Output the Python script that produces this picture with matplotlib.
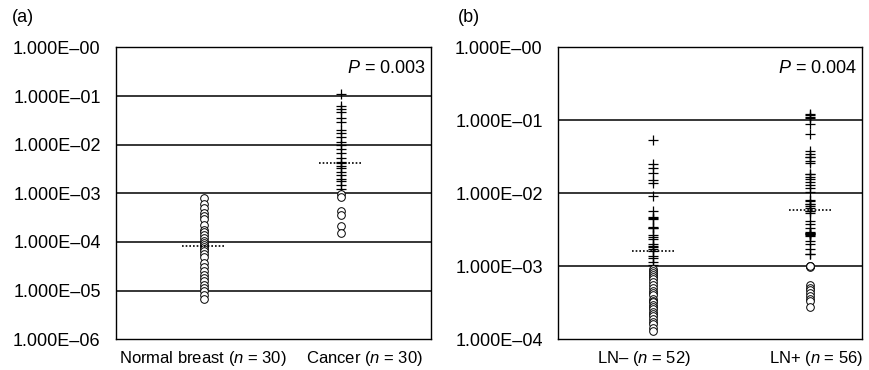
import matplotlib
matplotlib.use("Agg")
import matplotlib.pyplot as plt
from matplotlib.ticker import FixedLocator, FixedFormatter

plt.rcParams['font.family'] = ['Liberation Sans', 'DejaVu Sans']
plt.rcParams['mathtext.fontset'] = 'custom'
plt.rcParams['mathtext.rm'] = 'Liberation Sans'
plt.rcParams['mathtext.it'] = 'Liberation Sans:italic'

# ---------------- data ----------------
# Panel (a)
normal_circ = [7.9e-4, 6.0e-4, 4.9e-4, 3.9e-4, 3.4e-4, 2.9e-4, 2.2e-4, 1.8e-4, 1.6e-4, 1.38e-4,
               1.2e-4, 1.05e-4, 9.5e-5, 8.7e-5, 7.8e-5, 7.1e-5, 6.4e-5, 5.6e-5, 4.9e-5, 3.7e-5,
               3.0e-5, 2.5e-5, 2.1e-5, 1.8e-5, 1.57e-5, 1.3e-5, 1.13e-5, 9.8e-6, 8.1e-6, 6.7e-6]
cancer_plus = [1.12e-1, 6.2e-2, 5.3e-2, 4.6e-2, 3.6e-2, 2.9e-2, 1.96e-2, 1.7e-2, 1.45e-2, 1.15e-2,
               9.9e-3, 8.2e-3, 6.6e-3, 5.2e-3, 4.5e-3, 4.2e-3, 3.7e-3, 3.3e-3, 2.8e-3, 2.4e-3,
               2.0e-3, 1.76e-3, 1.45e-3, 1.2e-3]
cancer_circ = [9.5e-4, 8.3e-4, 4.3e-4, 3.6e-4, 2.1e-4, 1.55e-4]
median_a = [8.3e-5, 4.3e-3]
labels_a = ["Normal breast ($n$ = 30)", "Cancer ($n$ = 30)"]
p_a = "$P$ = 0.003"

# Panel (b)
lnneg_plus = [5.4e-2, 2.5e-2, 2.2e-2, 1.9e-2, 1.5e-2, 1.4e-2, 9.3e-3, 5.8e-3, 4.8e-3, 4.6e-3,
              4.4e-3, 3.5e-3, 3.4e-3, 3.3e-3, 2.7e-3, 2.55e-3, 2.4e-3, 2.0e-3, 1.9e-3, 1.85e-3,
              1.75e-3, 1.6e-3, 1.4e-3, 1.28e-3, 1.15e-3, 1.05e-3]
lnneg_circ = [9.3e-4, 8.7e-4, 8.1e-4, 7.6e-4, 7.1e-4, 6.6e-4, 6.0e-4, 5.5e-4, 5.0e-4, 4.6e-4,
              4.3e-4, 4.0e-4, 3.6e-4, 3.4e-4, 3.2e-4, 2.95e-4, 2.75e-4, 2.6e-4, 2.4e-4, 2.25e-4,
              2.1e-4, 1.9e-4, 1.75e-4, 1.6e-4, 1.45e-4, 1.3e-4]
lnpos_plus = [1.21e-1, 1.19e-1, 1.11e-1, 1.09e-1, 9.0e-2, 6.4e-2, 3.8e-2, 3.5e-2, 3.16e-2, 3.1e-2,
              2.8e-2, 2.6e-2, 1.85e-2, 1.83e-2, 1.7e-2, 1.55e-2, 1.44e-2, 1.29e-2, 1.17e-2, 1.04e-2,
              8.2e-3, 7.8e-3, 7.2e-3, 7.1e-3, 6.6e-3, 6.3e-3, 5.8e-3, 5.7e-3, 5.4e-3, 4.2e-3,
              3.8e-3, 3.4e-3, 2.95e-3, 2.9e-3, 2.85e-3, 2.8e-3, 2.75e-3, 2.7e-3, 2.6e-3, 2.2e-3,
              2.03e-3, 1.74e-3, 1.48e-3, 1.46e-3]
lnpos_circ = [1.0e-3, 1.0e-3, 0.98e-3, 1.02e-3, 5.5e-4, 5.0e-4, 4.7e-4, 4.35e-4, 3.9e-4, 3.6e-4,
              3.3e-4, 2.8e-4]
median_b = [1.6e-3, 6.0e-3]
labels_b = ["LN\u2013 ($n$ = 52)", "LN+ ($n$ = 56)"]
p_b = "$P$ = 0.004"

yt_a = [1e-6, 1e-5, 1e-4, 1e-3, 1e-2, 1e-1, 1e0]
yl_a = ["1.000E\u201306", "1.000E\u201305", "1.000E\u201304", "1.000E\u201303",
        "1.000E\u201302", "1.000E\u201301", "1.000E\u201300"]
yt_b = [1e-4, 1e-3, 1e-2, 1e-1, 1e0]
yl_b = ["1.000E\u201304", "1.000E\u201303", "1.000E\u201302", "1.000E\u201301", "1.000E\u201300"]

# ---------------- figure ----------------
fig = plt.figure(figsize=(8.7, 3.7), dpi=100)
ax_a = fig.add_axes([0.1333, 0.083, 0.3621, 0.789])
ax_b = fig.add_axes([0.6414, 0.083, 0.3494, 0.789])


def draw_panel(ax, groups, medians, xlabels, label_pos, yticks, ylabels, ptext):
    ax.set_yscale('log')
    ax.set_ylim(yticks[0], yticks[-1])
    ax.set_xlim(0, 1)
    for yv in yticks[1:-1]:
        ax.axhline(yv, color='black', lw=1.1, zorder=1)
    for (xpos, plus, circ), med in zip(groups, medians):
        if plus:
            ax.plot([xpos] * len(plus), plus, linestyle='none', marker='+',
                    markersize=6.5, mew=0.9, color='black', zorder=3)
        if circ:
            ax.plot([xpos] * len(circ), circ, linestyle='none', marker='o',
                    markersize=5.5, mew=0.7, mfc='white', mec='black', zorder=3)
        ax.plot([xpos - 0.07, xpos + 0.07], [med, med], linestyle=(0, (1, 1.2)),
                color='black', lw=1.2, zorder=4)
    ax.yaxis.set_major_locator(FixedLocator(yticks))
    ax.yaxis.set_major_formatter(FixedFormatter(ylabels))
    ax.yaxis.set_minor_locator(FixedLocator([]))
    ax.set_xticks(label_pos)
    ax.set_xticklabels(xlabels, fontsize=12)
    ax.tick_params(axis='y', length=0, pad=11, labelsize=13)
    ax.tick_params(axis='x', length=0, pad=7)
    for s in ax.spines.values():
        s.set_linewidth(1.0)
        s.set_color('black')
    ax.text(0.985, 0.955, ptext, transform=ax.transAxes, ha='right', va='top', fontsize=13)


draw_panel(ax_a,
           [(0.28, [], normal_circ), (0.714, cancer_plus, cancer_circ)],
           median_a, labels_a, [0.276, 0.79], yt_a, yl_a, p_a)
draw_panel(ax_b,
           [(0.3125, lnneg_plus, lnneg_circ), (0.829, lnpos_plus, lnpos_circ)],
           median_b, labels_b, [0.283, 0.849], yt_b, yl_b, p_b)

fig.text(12 / 870, 1 - 18 / 370, "(a)", fontsize=13, ha='left', va='center')
fig.text(458 / 870, 1 - 18 / 370, "(b)", fontsize=13, ha='left', va='center')

fig.savefig("out.png", dpi=100)
